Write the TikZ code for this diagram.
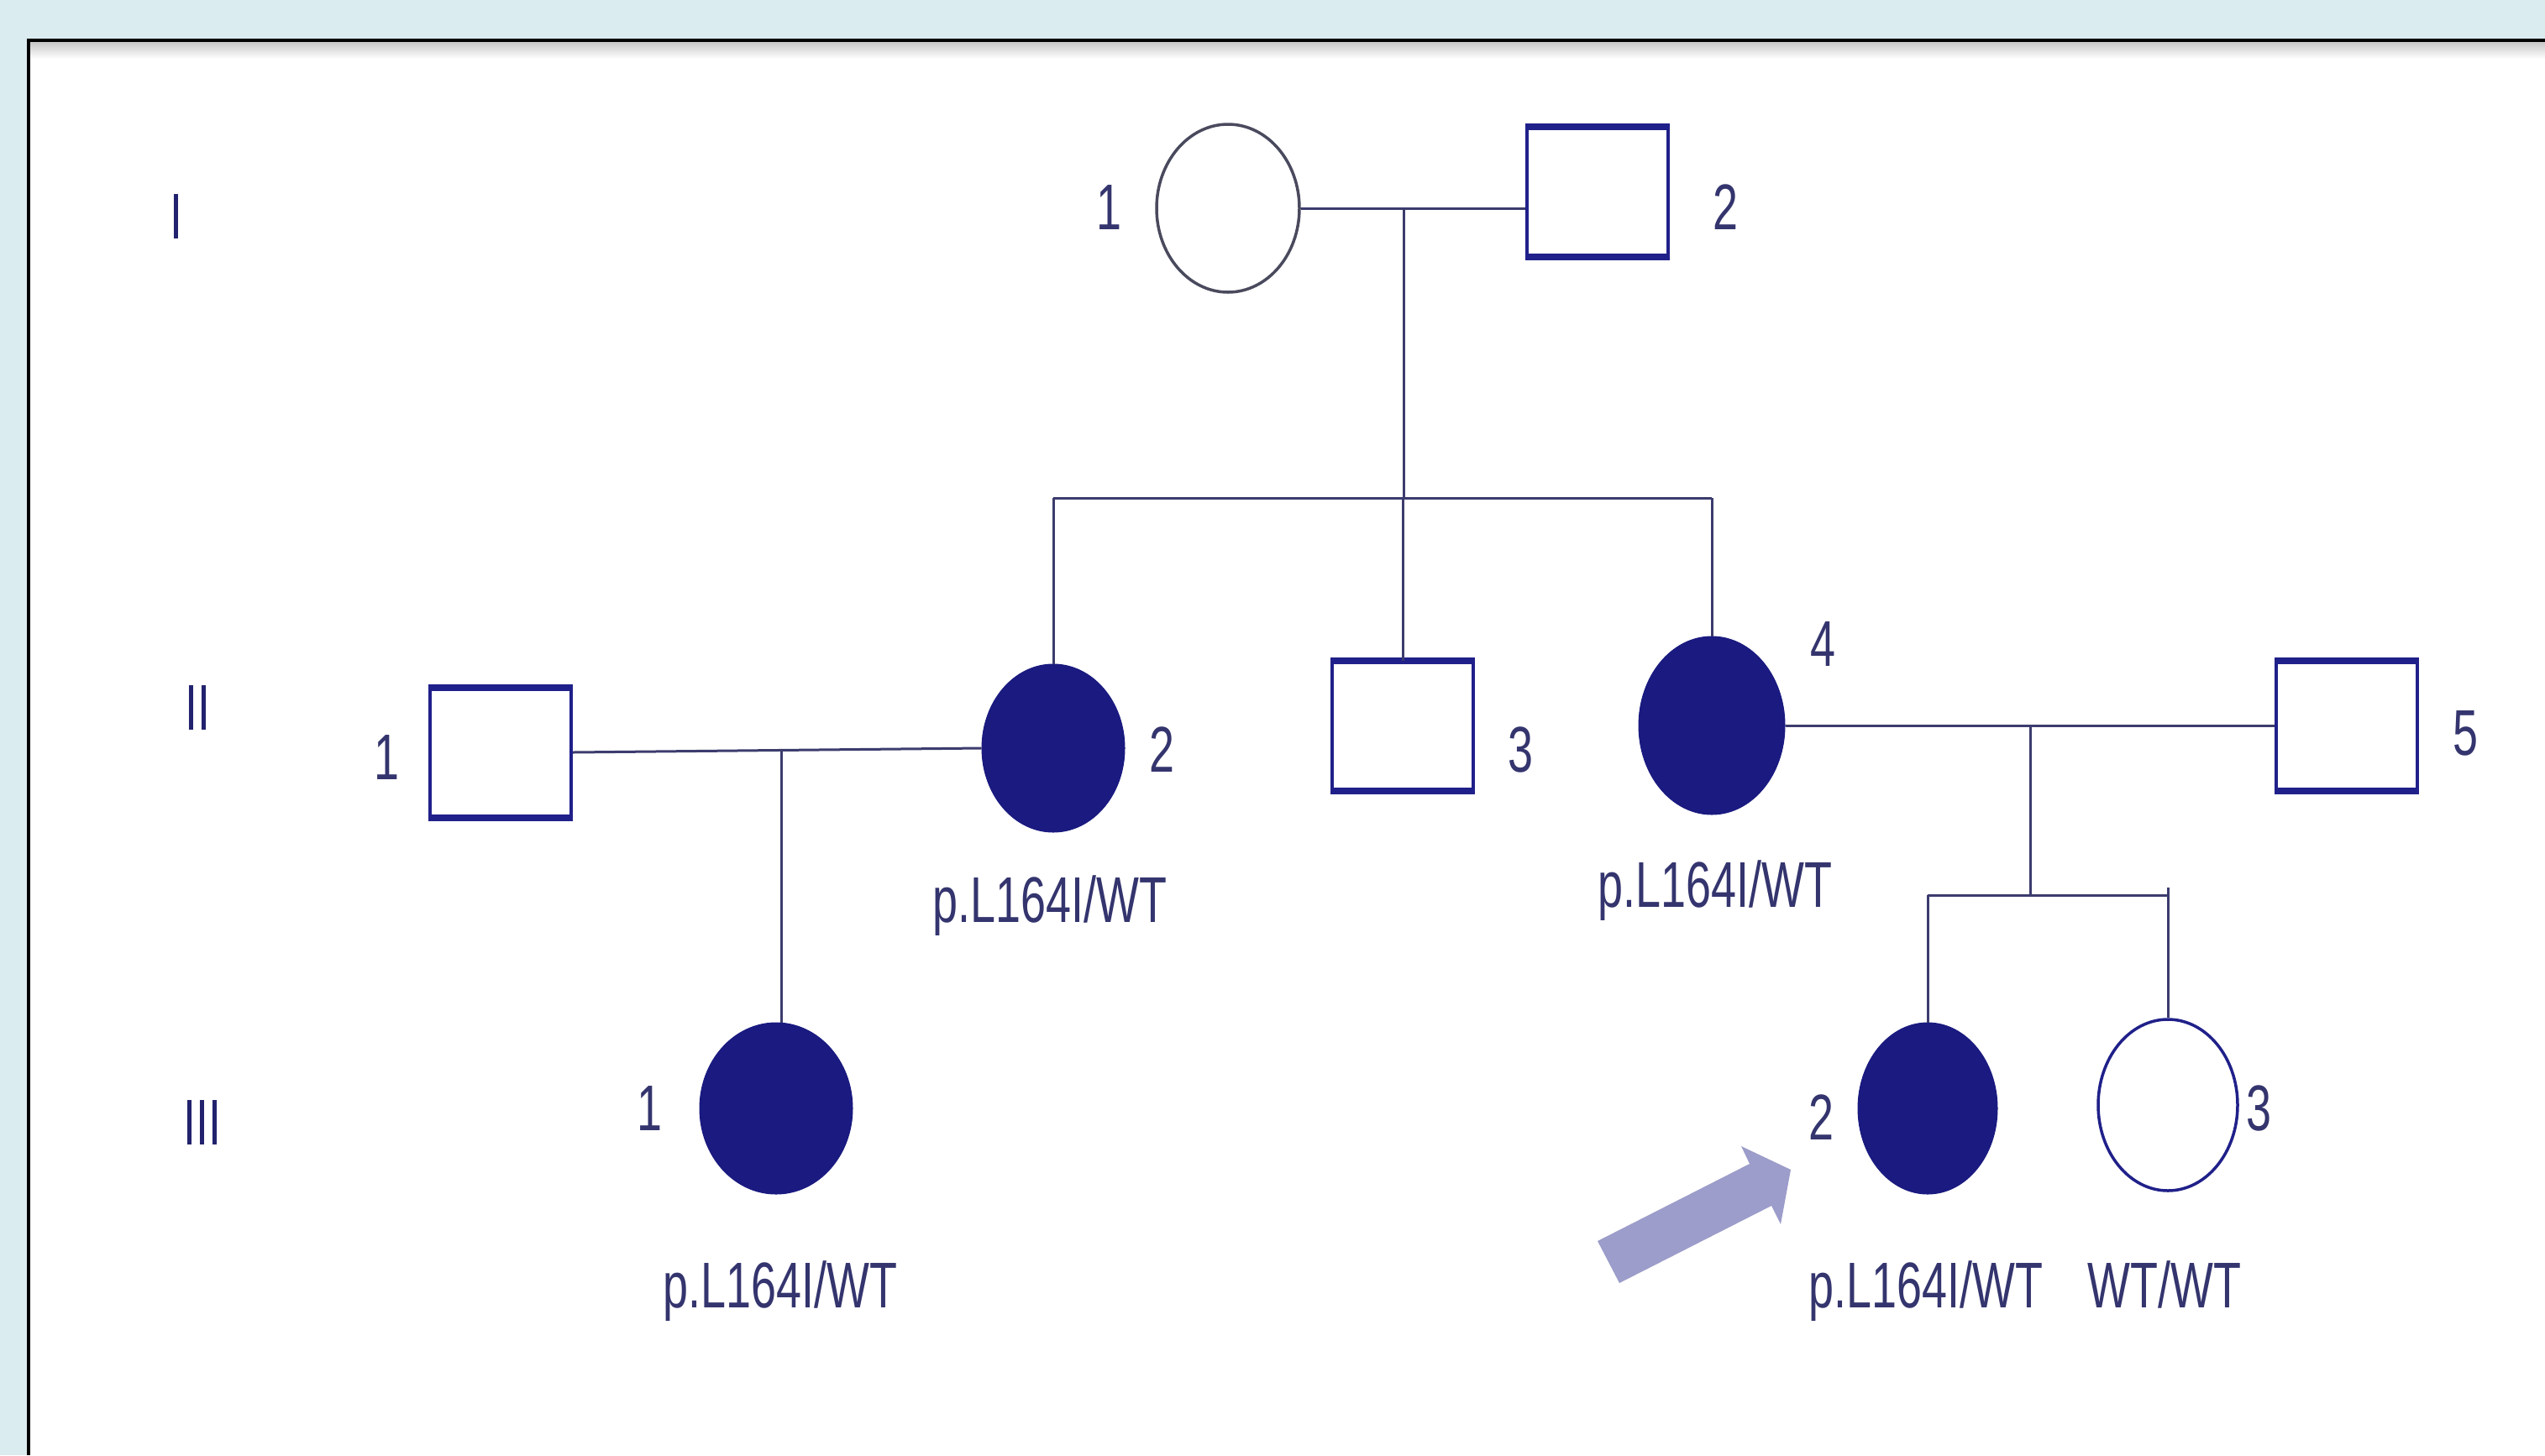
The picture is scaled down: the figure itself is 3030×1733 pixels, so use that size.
\documentclass[tikz,border=0pt]{standalone}
\usepackage{fontspec}
\setmainfont{Liberation Sans}
\newfontfamily\pedfont[FakeStretch=0.7]{Liberation Sans}
\usetikzlibrary{shapes.geometric,calc}

\definecolor{pagebg}{HTML}{DAECEF}
\definecolor{navyfill}{HTML}{1A1A80}
\definecolor{navyline}{HTML}{20208A}
\definecolor{linkline}{HTML}{3C3C6E}
\definecolor{outline}{HTML}{4A4A5E}
\definecolor{txtcol}{HTML}{34346E}
\definecolor{gencol}{HTML}{22226E}
\definecolor{arrowcol}{HTML}{9C9DCA}

\begin{document}
\begin{tikzpicture}[x=1pt,y=-1pt,
  affected/.style={ellipse, fill=navyfill, draw=navyfill, line width=1pt,
    inner sep=0pt, minimum width=170pt, minimum height=200pt},
  openfemale/.style={ellipse, fill=white, draw=#1, line width=3.5pt,
    inner sep=0pt, minimum width=170pt, minimum height=200pt},
  male/.style={rectangle, fill=white, draw=navyline, line width=4pt,
    inner sep=0pt, minimum width=168pt, minimum height=151pt},
  boxedge/.style={draw=navyline, line width=8pt},
  link/.style={draw=linkline, line width=3pt},
  numlbl/.style={font=\pedfont\fontsize{77}{80}\selectfont, text=txtcol, inner sep=0pt},
  genlbl/.style={font=\pedfont\fontsize{77}{80}\selectfont, text=gencol, inner sep=0pt},
  genotype/.style={font=\pedfont\fontsize{77}{80}\selectfont, text=txtcol, inner sep=0pt, anchor=base}]

% page: light blue surround, white panel with a black top/left rule
\useasboundingbox (0,0) rectangle (3030,1733);
\fill[pagebg] (0,0) rectangle (3030,1733);
\fill[white] (34,48) rectangle (3030,1733);
\shade[top color=black!22, bottom color=white] (35,50) rectangle (3030,70);
\draw[black, line width=3.5pt] (34,1733) -- (34,48) -- (3030,48);

% generation labels
\node[genlbl] (genI)   at (210,258)  {I};
\node[genlbl] (genII)  at (235,843)  {II};
\node[genlbl] (genIII) at (241,1337) {III};

% generation I
\node[openfemale=outline] (I1) at (1462,248) {};
\node[male] (I2) at (1902,228) {};
\node[numlbl] (nI1) at (1320,247) {1};
\node[numlbl] (nI2) at (2054,247) {2};

% generation II
\node[male] (II1) at (596,896) {};
\node[affected] (II2) at (1254,891) {};
\node[male] (II3) at (1670,864) {};
\node[affected, minimum width=174pt, minimum height=212pt] (II4) at (2038,864) {};
\node[male] (II5) at (2794,864) {};
\node[numlbl] (nII1) at (460,902)  {1};
\node[numlbl] (nII2) at (1383,893) {2};
\node[numlbl] (nII3) at (1810,893) {3};
\node[numlbl] (nII4) at (2170,767) {4};
\node[numlbl] (nII5) at (2935,873) {5};
\node[genotype] (tII2) at (1250,1098) {p.L164I/WT};
\node[genotype] (tII4) at (2042,1080) {p.L164I/WT};

% generation III
\node[affected, minimum width=182pt, minimum height=204pt] (III1) at (924,1320) {};
\node[affected, minimum width=166pt, minimum height=204pt] (III2) at (2295,1320) {};
\node[openfemale=navyline, minimum width=166pt, minimum height=204pt] (III3) at (2581,1316) {};
\node[numlbl] (nIII1) at (773,1320)  {1};
\node[numlbl] (nIII2) at (2168,1331) {2};
\node[numlbl] (nIII3) at (2689,1320) {3};
\node[genotype] (tIII1) at (929,1557)  {p.L164I/WT};
\node[genotype] (tIII2) at (2293,1557) {p.L164I/WT};
\node[genotype] (tIII3) at (2577,1557) {WT/WT};

% heavier top and bottom edges of the squares
\foreach \m in {I2,II1,II3,II5}{
  \draw[boxedge] (\m.north west) -- (\m.north east);
  \draw[boxedge] (\m.south west) -- (\m.south east);
}

% matings, descent lines and sibships
\coordinate (mI)   at (1671,247);
\coordinate (sib1) at (1671,593);
\draw[link] (I1.east) -- (I1.east -| I2.west);
\draw[link] (mI) -- (sib1);
\draw[link] (II2.north |- sib1) -- (II4.north |- sib1);
\draw[link] (II2.north |- sib1) -- (II2.north);
\draw[link] (II3.north |- sib1) -- (II3.north);
\draw[link] (II4.north |- sib1) -- (II4.north);

\draw[link] (II1.east) -- (II2.west);
\coordinate (mIIa) at ($(II1.east)!0.51!(II2.west)$);
\draw[link] (mIIa) -- (mIIa |- III1.north);

\coordinate (mIIb) at (2417,864);
\coordinate (sib2) at (2417,1066);
\draw[link] (II4.east) -- (II4.east -| II5.west);
\draw[link] (mIIb) -- (sib2);
\draw[link] (III2.north |- sib2) -- (III3.north |- sib2) -- ++(0,-9);
\draw[link] (III2.north |- sib2) -- (III2.north);
\draw[link] (III3.north |- sib2) -- (III3.north);

% proband arrow
\fill[arrowcol] (1902,1478) -- (2083,1386) -- (2073,1365) -- (2132,1393)
  -- (2120,1458) -- (2109,1436) -- (1928,1528) -- cycle;
\end{tikzpicture}
\end{document}
